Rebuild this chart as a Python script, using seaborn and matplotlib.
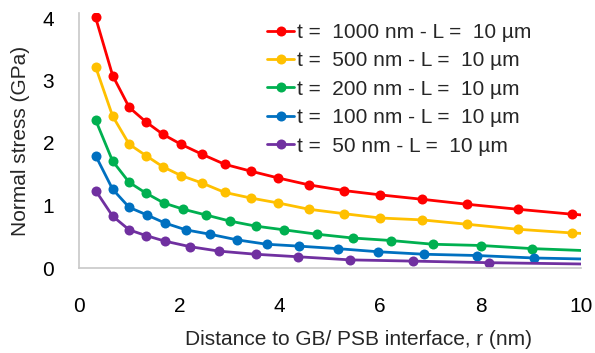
import matplotlib
matplotlib.use("Agg")
import matplotlib.pyplot as plt
import seaborn as sns
import pandas as pd

# ---- data ----
labels = ["t =  1000 nm - L =  10 µm", "t =  500 nm - L =  10 µm",
          "t =  200 nm - L =  10 µm", "t =  100 nm - L =  10 µm",
          "t =  50 nm - L =  10 µm"]
colors = ["#FF0000", "#FFC000", "#00B050", "#0070C0", "#7030A0"]

r_1000 = [0.33, 0.67, 1.0, 1.33, 1.67, 2.03, 2.45, 2.9, 3.42, 3.97, 4.58, 5.27, 6.0, 6.83, 7.73, 8.74, 9.83, 11.0]
s_1000 = [4.01, 3.08, 2.57, 2.34, 2.14, 1.98, 1.82, 1.66, 1.55, 1.44, 1.33, 1.24, 1.17, 1.10, 1.02, 0.94, 0.86, 0.79]
r_500 = [0.33, 0.67, 1.0, 1.33, 1.67, 2.03, 2.45, 2.9, 3.42, 3.97, 4.58, 5.27, 6.0, 6.83, 7.73, 8.74, 9.83, 11.0]
s_500 = [3.22, 2.43, 1.98, 1.80, 1.62, 1.48, 1.36, 1.21, 1.12, 1.04, 0.94, 0.87, 0.80, 0.77, 0.70, 0.62, 0.56, 0.52]
r_200 = [0.33, 0.67, 1.0, 1.33, 1.69, 2.08, 2.52, 3.01, 3.52, 4.09, 4.75, 5.45, 6.21, 7.05, 8.01, 9.03, 10.2]
s_200 = [2.37, 1.71, 1.37, 1.20, 1.04, 0.94, 0.85, 0.75, 0.67, 0.61, 0.54, 0.48, 0.44, 0.38, 0.36, 0.31, 0.275]
r_100 = [0.33, 0.67, 1.0, 1.35, 1.71, 2.13, 2.61, 3.15, 3.74, 4.38, 5.15, 5.96, 6.88, 7.92, 9.07, 10.3]
s_100 = [1.80, 1.26, 0.97, 0.85, 0.72, 0.61, 0.54, 0.45, 0.38, 0.35, 0.31, 0.26, 0.22, 0.20, 0.16, 0.14]
r_50 = [0.33, 0.67, 1.0, 1.33, 1.71, 2.22, 2.79, 3.52, 4.36, 5.40, 6.66, 8.17, 10.2]
s_50 = [1.24, 0.83, 0.61, 0.52, 0.43, 0.34, 0.27, 0.22, 0.18, 0.13, 0.11, 0.085, 0.062]

xticks = [0, 2, 4, 6, 8, 10]
yticks = [0, 1, 2, 3, 4]
xlabel = "Distance to GB/ PSB interface, r (nm)"
ylabel = "Normal stress (GPa)"

frames = []
for lab, r, s in zip(labels, [r_1000, r_500, r_200, r_100, r_50],
                     [s_1000, s_500, s_200, s_100, s_50]):
    frames.append(pd.DataFrame({"r": r, "stress": s, "series": lab}))
df = pd.concat(frames, ignore_index=True)

sns.set_style("white")
plt.rcParams["font.family"] = ["Liberation Sans", "DejaVu Sans"]

fig = plt.figure(figsize=(5.95, 3.53), dpi=100)
ax = fig.add_axes([79 / 595, 1 - 268 / 353, (581 - 79) / 595, (268 - 13) / 353])

sns.lineplot(data=df, x="r", y="stress", hue="series", hue_order=labels,
             palette=colors, marker="o", markersize=7.2, markeredgewidth=0,
             linewidth=2.0, sort=False, estimator=None, legend=False, ax=ax)

ax.set_xlim(0, 10)
ax.set_ylim(0, 4.08)
ax.set_xticks(xticks)
ax.set_yticks(yticks)
ax.set_xticklabels([str(v) for v in xticks])
ax.set_yticklabels([str(v) for v in yticks])

grey = "#C8C8C8"
for side in ["top", "right"]:
    ax.spines[side].set_visible(False)
for side in ["left", "bottom"]:
    ax.spines[side].set_color(grey)
    ax.spines[side].set_linewidth(1.2)
ax.tick_params(axis="both", direction="inout", length=12, width=1.2, color=grey,
               labelsize=15, labelcolor="black")
ax.tick_params(axis="x", pad=15)
ax.tick_params(axis="y", pad=12)

ax.set_xlabel(xlabel, fontsize=15, labelpad=10)
ax.xaxis.label.set_x(0.556)
ax.set_ylabel(ylabel, fontsize=15, labelpad=9)

leg = ax.legend(ax.lines[:5], labels, loc="upper left",
                bbox_to_anchor=(267 / 595, 1 - 23 / 353), bbox_transform=fig.transFigure,
                frameon=False, fontsize=15, handlelength=1.3, handletextpad=0.15,
                labelspacing=0.45, borderpad=0, borderaxespad=0)

fig.savefig("out.png", dpi=100)
